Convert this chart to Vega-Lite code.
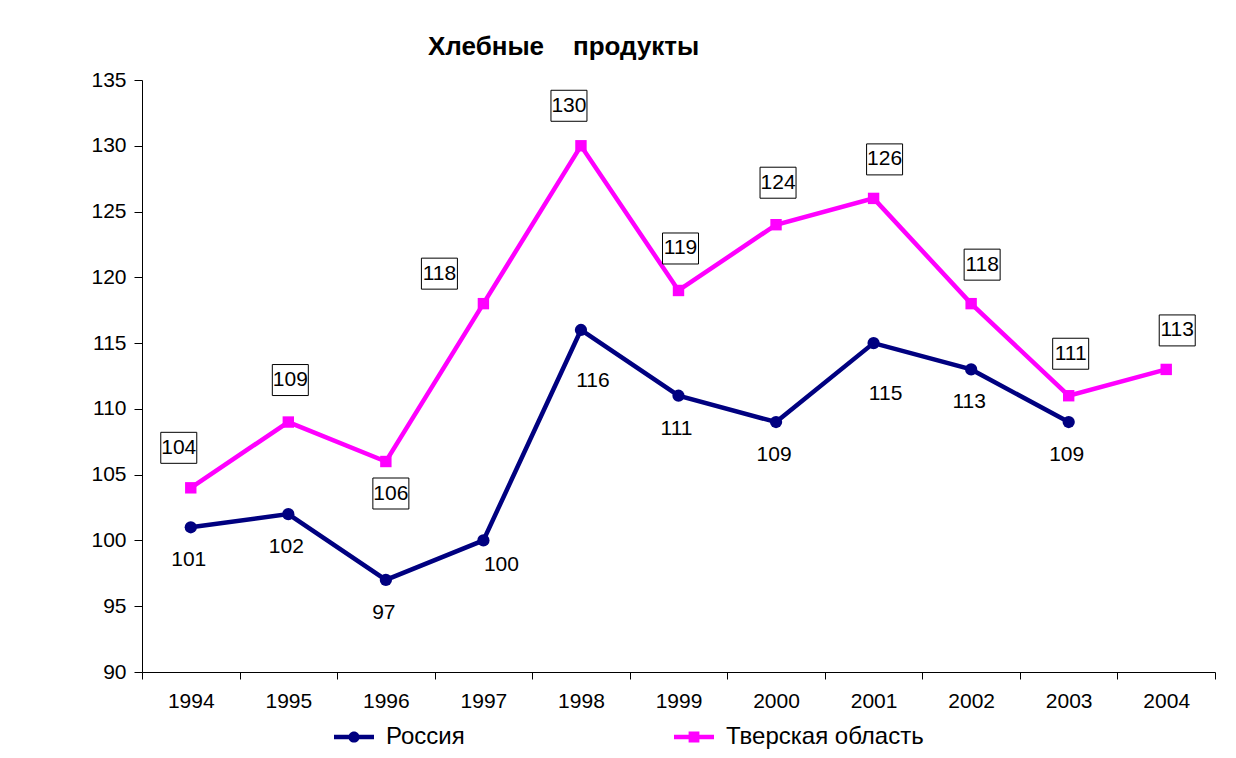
{
  "$schema": "https://vega.github.io/schema/vega-lite/v6.json",
  "width": 1073,
  "height": 592,
  "autosize": {"type": "none"},
  "padding": {"left": 142, "top": 80, "right": 21, "bottom": 86},
  "background": "white",
  "config": {"view": {"stroke": null}, "font": "Liberation Sans"},
  "title": {
    "text": "Хлебные\u00a0\u00a0\u00a0\u00a0продукты",
    "anchor": "start",
    "frame": "group",
    "dx": 286,
    "fontSize": 26,
    "fontWeight": "bold",
    "font": "Liberation Sans",
    "color": "black",
    "offset": 9
  },
  "data": {
    "values": [
      {"year": 1994, "region": "Россия", "value": 101},
      {"year": 1995, "region": "Россия", "value": 102},
      {"year": 1996, "region": "Россия", "value": 97},
      {"year": 1997, "region": "Россия", "value": 100},
      {"year": 1998, "region": "Россия", "value": 116},
      {"year": 1999, "region": "Россия", "value": 111},
      {"year": 2000, "region": "Россия", "value": 109},
      {"year": 2001, "region": "Россия", "value": 115},
      {"year": 2002, "region": "Россия", "value": 113},
      {"year": 2003, "region": "Россия", "value": 109},
      {"year": 1994, "region": "Тверская область", "value": 104},
      {"year": 1995, "region": "Тверская область", "value": 109},
      {"year": 1996, "region": "Тверская область", "value": 106},
      {"year": 1997, "region": "Тверская область", "value": 118},
      {"year": 1998, "region": "Тверская область", "value": 130},
      {"year": 1999, "region": "Тверская область", "value": 119},
      {"year": 2000, "region": "Тверская область", "value": 124},
      {"year": 2001, "region": "Тверская область", "value": 126},
      {"year": 2002, "region": "Тверская область", "value": 118},
      {"year": 2003, "region": "Тверская область", "value": 111},
      {"year": 2004, "region": "Тверская область", "value": 113}
    ]
  },
  "encoding": {
    "x": {
      "field": "year",
      "type": "ordinal",
      "scale": {"paddingInner": 0, "paddingOuter": 0},
      "axis": {
        "title": null,
        "labelAngle": 0,
        "labelFontSize": 21,
        "labelFont": "Liberation Sans",
        "labelColor": "black",
        "domainColor": "black",
        "tickColor": "black",
        "tickSize": 7,
        "tickBand": "extent",
        "labelPadding": 11,
        "grid": false
      }
    },
    "y": {
      "field": "value",
      "type": "quantitative",
      "scale": {"domain": [90, 135], "nice": false, "zero": false},
      "axis": {
        "title": null,
        "values": [90, 95, 100, 105, 110, 115, 120, 125, 130, 135],
        "labelFontSize": 21,
        "labelFont": "Liberation Sans",
        "labelColor": "black",
        "domainColor": "black",
        "tickColor": "black",
        "tickSize": 8,
        "labelPadding": 8,
        "grid": false
      }
    }
  },
  "layer": [
    {
      "mark": {"type": "line", "strokeWidth": 4.5},
      "encoding": {
        "color": {
          "field": "region",
          "type": "nominal",
          "scale": {"domain": ["Россия", "Тверская область"], "range": ["#000080", "#FF00FF"]},
          "legend": {
            "orient": "none",
            "legendX": 192,
            "legendY": 637,
            "direction": "horizontal",
            "title": null,
            "labelFontSize": 24,
            "labelFont": "Liberation Sans",
            "labelColor": "black",
            "labelLimit": 400,
            "symbolSize": 1600,
            "labelOffset": 12,
            "columnPadding": 209,
            "padding": 0,
            "encode": {
              "symbols": {
                "update": {
                  "shape": {"signal": "datum.value === 'Россия' ? 'M-1,-0.11H1V0.11H-1Z M0.28,0A0.28,0.28,0,1,1,-0.28,0A0.28,0.28,0,1,1,0.28,0Z' : 'M-1,-0.11H1V0.11H-1Z M-0.27,-0.27H0.27V0.27H-0.27Z'"},
                  "fill": {"signal": "datum.value === 'Россия' ? '#000080' : '#FF00FF'"},
                  "strokeWidth": {"value": 0},
                  "opacity": {"value": 1},
                  "fillOpacity": {"value": 1}
                }
              }
            }
          }
        }
      }
    },
    {
      "transform": [{"filter": "datum.region === 'Россия'"}],
      "mark": {"type": "point", "shape": "circle", "filled": true, "color": "#000080", "size": 150, "opacity": 1}
    },
    {
      "transform": [{"filter": "datum.region === 'Тверская область'"}],
      "mark": {"type": "point", "shape": "square", "filled": true, "color": "#FF00FF", "size": 130, "opacity": 1}
    },
    {
      "transform": [{"filter": "datum.region === 'Россия' && indexof([1994,1995,1996,1999,2000,2002,2003], datum.year) >= 0"}],
      "mark": {"type": "text", "fontSize": 21, "font": "Liberation Sans", "color": "black", "baseline": "middle", "dx": -2, "dy": 33},
      "encoding": {"text": {"field": "value"}}
    },
    {
      "transform": [{"filter": "datum.region === 'Россия' && indexof([1998,2001], datum.year) >= 0"}],
      "mark": {"type": "text", "fontSize": 21, "font": "Liberation Sans", "color": "black", "baseline": "middle", "dx": 12, "dy": 51},
      "encoding": {"text": {"field": "value"}}
    },
    {
      "transform": [{"filter": "datum.region === 'Россия' && datum.year === 1997"}],
      "mark": {"type": "text", "fontSize": 21, "font": "Liberation Sans", "color": "black", "baseline": "middle", "dx": 18, "dy": 25},
      "encoding": {"text": {"field": "value"}}
    },
    {
      "transform": [{"filter": "datum.region === 'Тверская область' && indexof([1995,1999,2000,2003], datum.year) >= 0"}],
      "layer": [
        {"mark": {"type": "point", "shape": "M-1,-0.861H1V0.861H-1Z", "size": 1296, "filled": true, "fill": "white", "stroke": "black", "strokeWidth": 1, "opacity": 1, "xOffset": 2, "yOffset": -42}},
        {"mark": {"type": "text", "fontSize": 21, "font": "Liberation Sans", "color": "black", "baseline": "middle", "dx": 2, "dy": -42}, "encoding": {"text": {"field": "value"}}}
      ]
    },
    {
      "transform": [{"filter": "datum.region === 'Тверская область' && indexof([1994,1998], datum.year) >= 0"}],
      "layer": [
        {"mark": {"type": "point", "shape": "M-1,-0.861H1V0.861H-1Z", "size": 1296, "filled": true, "fill": "white", "stroke": "black", "strokeWidth": 1, "opacity": 1, "xOffset": -12, "yOffset": -40}},
        {"mark": {"type": "text", "fontSize": 21, "font": "Liberation Sans", "color": "black", "baseline": "middle", "dx": -12, "dy": -40}, "encoding": {"text": {"field": "value"}}}
      ]
    },
    {
      "transform": [{"filter": "datum.region === 'Тверская область' && indexof([2001,2002,2004], datum.year) >= 0"}],
      "layer": [
        {"mark": {"type": "point", "shape": "M-1,-0.861H1V0.861H-1Z", "size": 1296, "filled": true, "fill": "white", "stroke": "black", "strokeWidth": 1, "opacity": 1, "xOffset": 11, "yOffset": -39}},
        {"mark": {"type": "text", "fontSize": 21, "font": "Liberation Sans", "color": "black", "baseline": "middle", "dx": 11, "dy": -39}, "encoding": {"text": {"field": "value"}}}
      ]
    },
    {
      "transform": [{"filter": "datum.region === 'Тверская область' && datum.year === 1996"}],
      "layer": [
        {"mark": {"type": "point", "shape": "M-1,-0.861H1V0.861H-1Z", "size": 1296, "filled": true, "fill": "white", "stroke": "black", "strokeWidth": 1, "opacity": 1, "xOffset": 5, "yOffset": 32}},
        {"mark": {"type": "text", "fontSize": 21, "font": "Liberation Sans", "color": "black", "baseline": "middle", "dx": 5, "dy": 32}, "encoding": {"text": {"field": "value"}}}
      ]
    },
    {
      "transform": [{"filter": "datum.region === 'Тверская область' && datum.year === 1997"}],
      "layer": [
        {"mark": {"type": "point", "shape": "M-1,-0.861H1V0.861H-1Z", "size": 1296, "filled": true, "fill": "white", "stroke": "black", "strokeWidth": 1, "opacity": 1, "xOffset": -44, "yOffset": -30}},
        {"mark": {"type": "text", "fontSize": 21, "font": "Liberation Sans", "color": "black", "baseline": "middle", "dx": -44, "dy": -30}, "encoding": {"text": {"field": "value"}}}
      ]
    }
  ]
}
